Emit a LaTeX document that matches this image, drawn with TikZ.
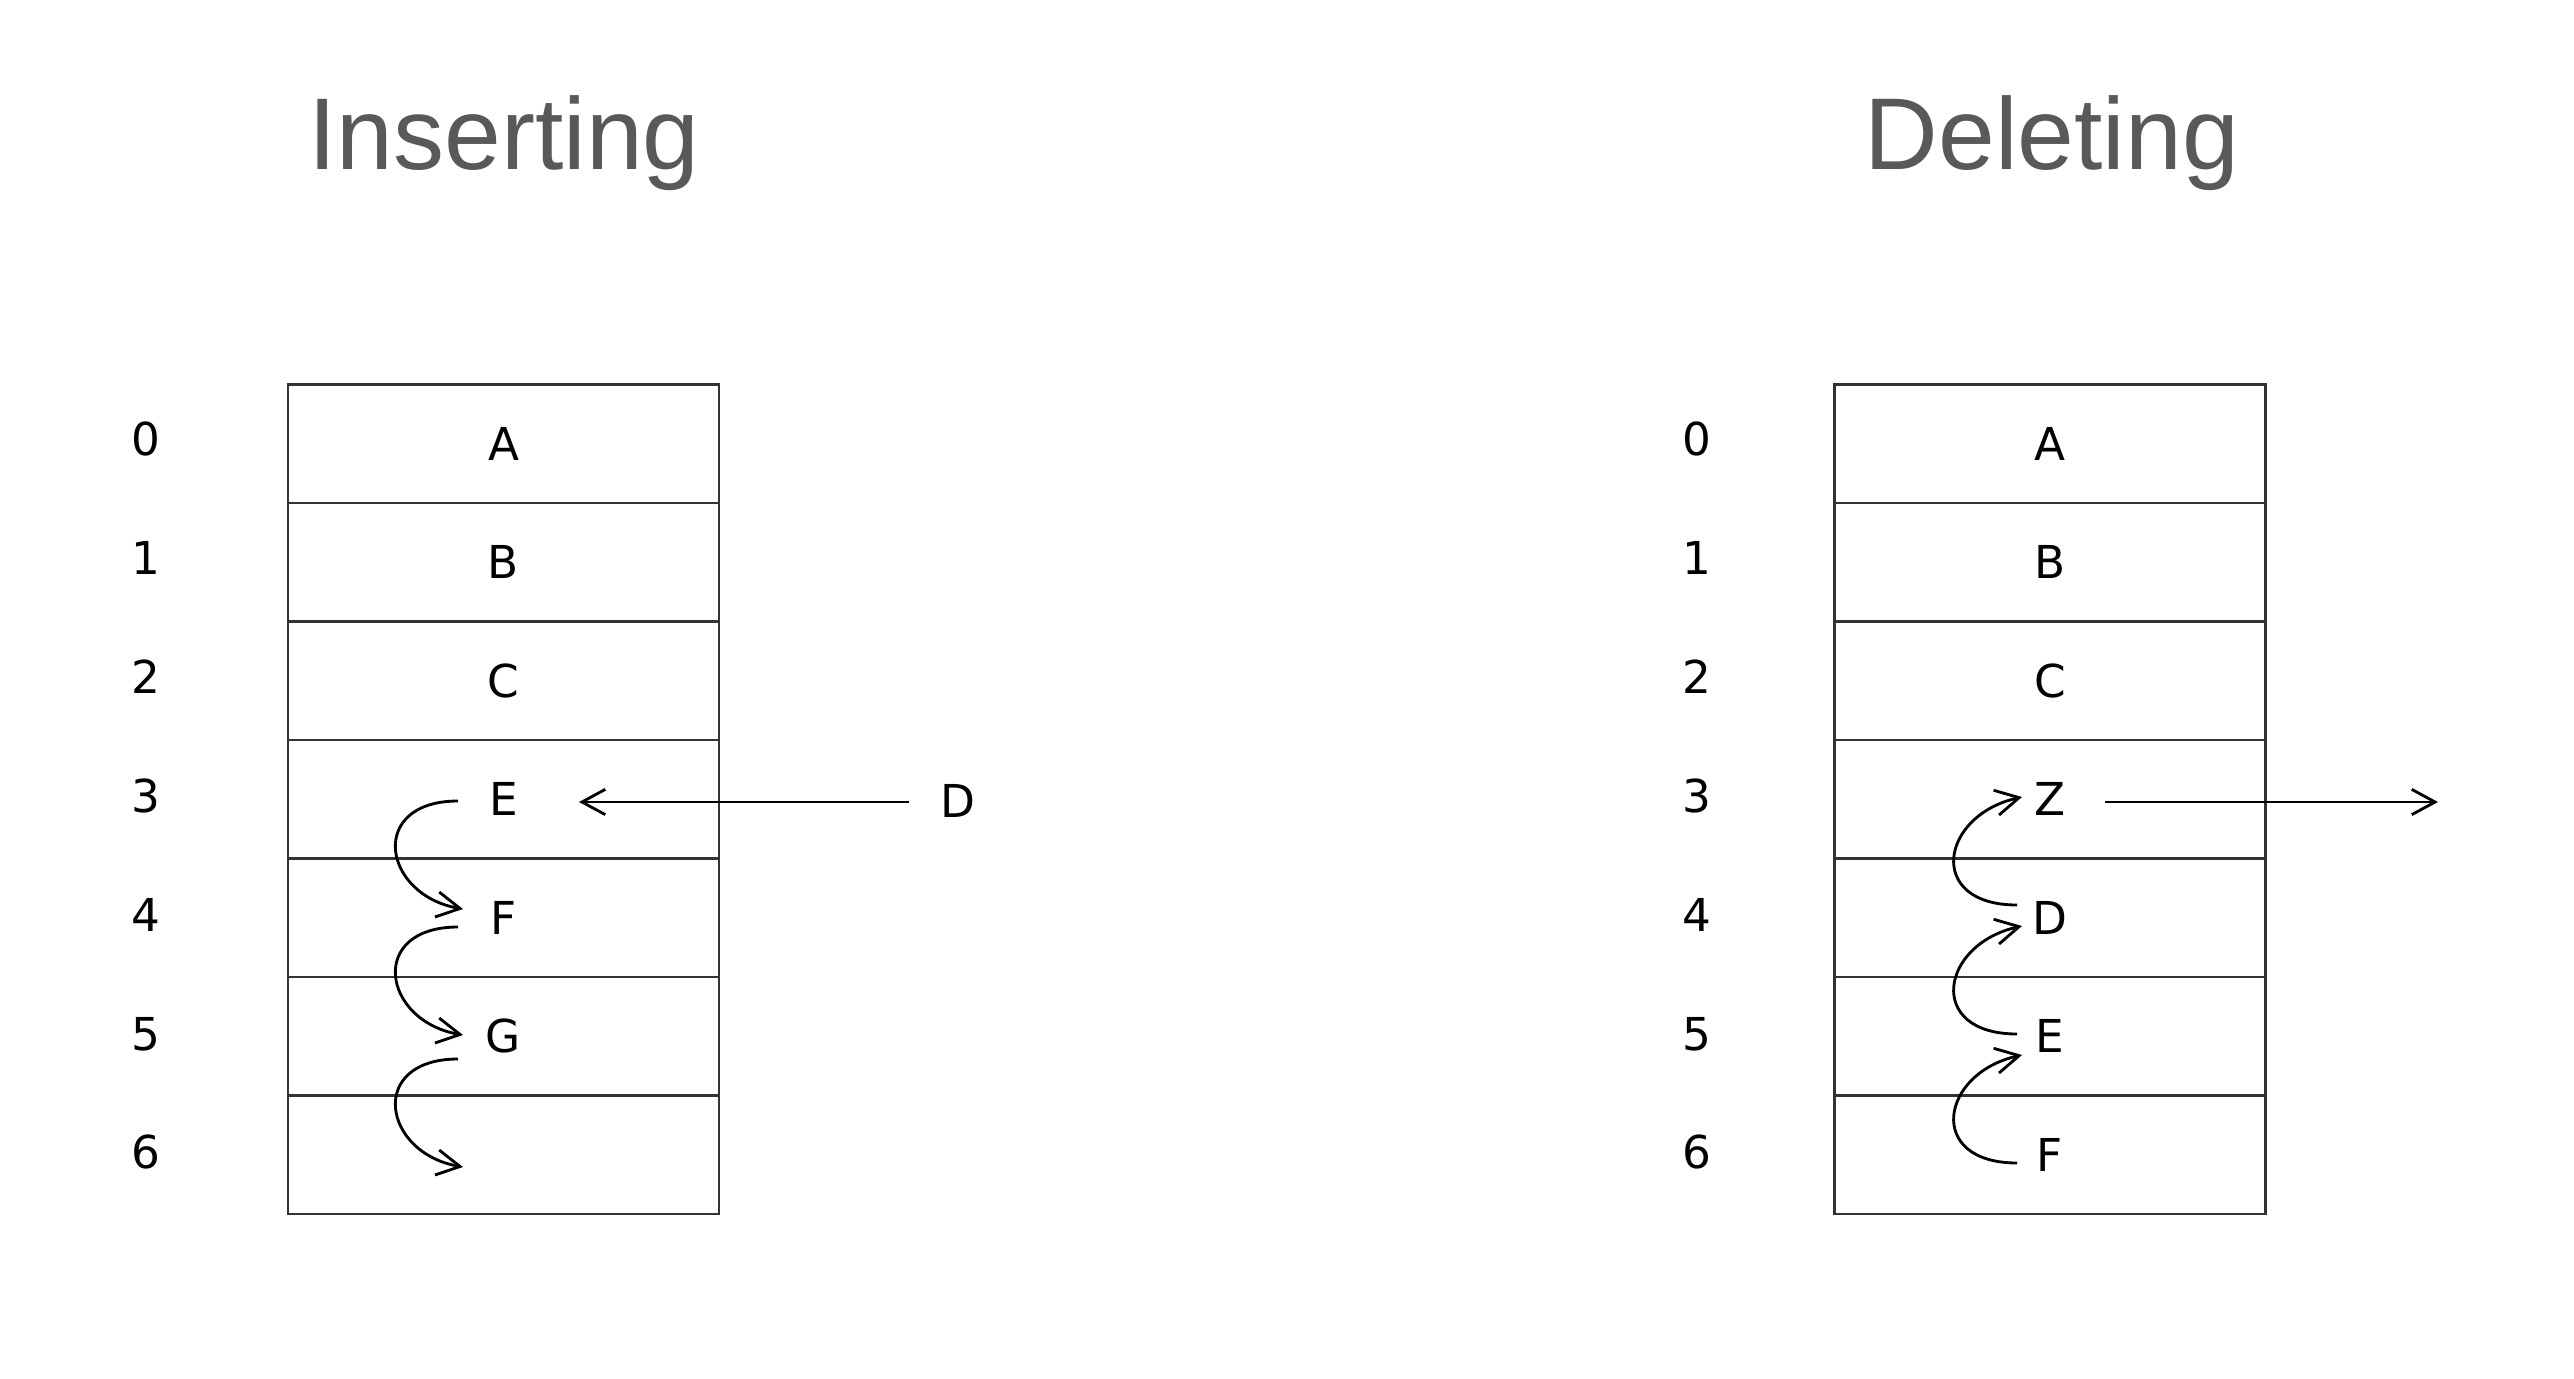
\documentclass[tikz,border=0pt]{standalone}
\usepackage{fontspec}
\setmainfont{DejaVu Sans}
\newfontfamily\titlefont{Liberation Sans}
\usetikzlibrary{arrows.meta}
\begin{document}
\begin{tikzpicture}[x=0.3pt,y=-0.3pt,
  cell/.style={draw=black!80, line width=0.8pt, minimum width=129.3pt, minimum height=35.55pt, inner sep=0pt, font=\fontsize{13.6}{16}\selectfont},
  idx/.style={inner sep=0pt, font=\fontsize{13.6}{16}\selectfont},
  ttl/.style={anchor=base, inner sep=0pt, text=black!65, font=\titlefont\fontsize{30.6}{36}\selectfont},
  arr/.style={line width=0.85pt, -{Straight Barb[length=7pt,width=7.6pt]}}]
\useasboundingbox (0,0) rectangle (2574,1378);
% titles
\node[ttl] (tins) at (504,169) {Inserting};
\node[ttl] (tdel) at (2052,169) {Deleting};
% left table
\node[cell] (L0) at (503.5,443.75) {A};
\node[cell] (L1) at (503.5,562.25) {B};
\node[cell] (L2) at (503.5,680.75) {C};
\node[cell] (L3) at (503.5,799.25) {E};
\node[cell] (L4) at (503.5,917.75) {F};
\node[cell] (L5) at (503.5,1036.25) {G};
\node[cell] (L6) at (503.5,1154.75) {};
% right table
\node[cell] (R0) at (2050,443.75) {A};
\node[cell] (R1) at (2050,562.25) {B};
\node[cell] (R2) at (2050,680.75) {C};
\node[cell] (R3) at (2050,799.25) {Z};
\node[cell] (R4) at (2050,917.75) {D};
\node[cell] (R5) at (2050,1036.25) {E};
\node[cell] (R6) at (2050,1154.75) {F};
% indices
\node[idx] (li0) at (146,439) {0};
\node[idx] (li1) at (146,558) {1};
\node[idx] (li2) at (146,677) {2};
\node[idx] (li3) at (146,796) {3};
\node[idx] (li4) at (146,915) {4};
\node[idx] (li5) at (146,1034) {5};
\node[idx] (li6) at (146,1152) {6};
\node[idx] (ri0) at (1697,439) {0};
\node[idx] (ri1) at (1697,558) {1};
\node[idx] (ri2) at (1697,677) {2};
\node[idx] (ri3) at (1697,796) {3};
\node[idx] (ri4) at (1697,915) {4};
\node[idx] (ri5) at (1697,1034) {5};
\node[idx] (ri6) at (1697,1152) {6};
% inserting: D arrow
\node[idx] (D) at (958,801) {D};
\coordinate (dstart) at (909,802);
\coordinate (dtip) at (579,802);
\draw[arr] (dstart) -- (dtip);
% inserting shift curves
\coordinate (ls1) at (458,801);  \coordinate (lt1) at (463,909);
\coordinate (ls2) at (458,927);  \coordinate (lt2) at (463,1035);
\coordinate (ls3) at (458,1059); \coordinate (lt3) at (463,1167);
\draw[arr] (ls1) .. controls (367,801) and (382,895) .. (lt1);
\draw[arr] (ls2) .. controls (367,927) and (382,1021) .. (lt2);
\draw[arr] (ls3) .. controls (367,1059) and (382,1153) .. (lt3);
% deleting: out arrow
\coordinate (zstart) at (2105,802);
\coordinate (ztip) at (2438,802);
\draw[arr] (zstart) -- (ztip);
% deleting shift curves
\coordinate (rs1) at (2017,905);  \coordinate (rt1) at (2022,797);
\coordinate (rs2) at (2017,1034); \coordinate (rt2) at (2022,926);
\coordinate (rs3) at (2017,1163); \coordinate (rt3) at (2022,1055);
\draw[arr] (rs1) .. controls (1925,905) and (1940,815) .. (rt1);
\draw[arr] (rs2) .. controls (1925,1034) and (1940,944) .. (rt2);
\draw[arr] (rs3) .. controls (1925,1163) and (1940,1073) .. (rt3);
\end{tikzpicture}
\end{document}
